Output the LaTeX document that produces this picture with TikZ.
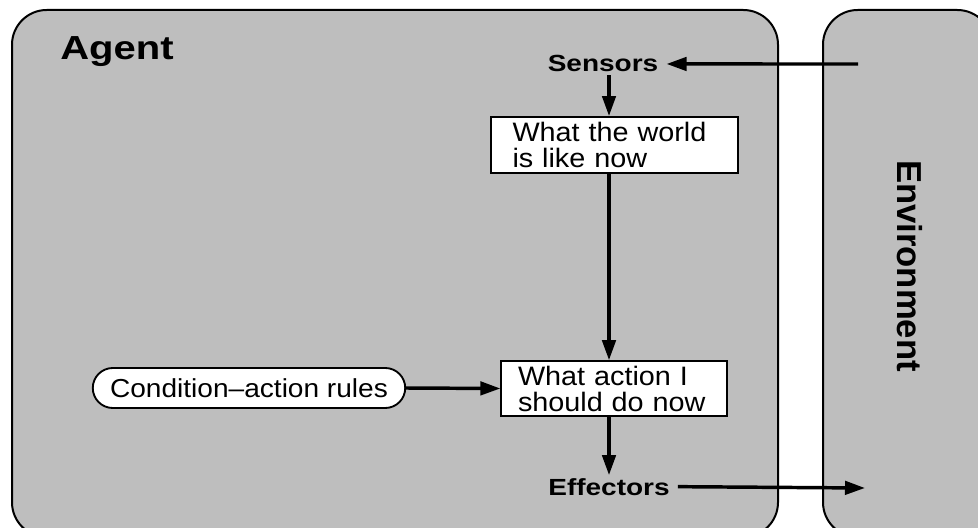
\documentclass[tikz,border=0pt]{standalone}
\usepackage{fontspec}
\setmainfont{Liberation Sans}[FakeStretch=1.2]
\newfontfamily\uprightlabel{Liberation Sans}
\newfontfamily\boxfont{Liberation Sans}[FakeStretch=1.08]
\usetikzlibrary{arrows.meta,shapes.misc}
\definecolor{panelgray}{RGB}{190,190,190}
\begin{document}
\begin{tikzpicture}[x=0.75pt,y=-0.75pt,
  panel/.style={draw=black,line width=1.5pt,fill=panelgray,rounded corners=26pt},
  infobox/.style={draw=black,line width=1.4pt,fill=white,align=left,
    font=\boxfont\fontsize{20}{19.5}\selectfont,inner ysep=0pt},
  flow/.style={line width=2.6pt,-{Triangle[length=15pt,width=10pt]}},
  port/.style={font=\bfseries\fontsize{17.5}{20}\selectfont,inner ysep=2pt,inner xsep=6pt}]
\useasboundingbox (0,0) rectangle (978,528);
% agent and environment panels, running past the lower edge
\begin{scope}
  \clip (0,0) rectangle (978,528);
  \draw[panel] (12,10) rectangle (778,537);
  \draw[panel] (823,10) rectangle (992,537);
\end{scope}
\node[anchor=base west,inner sep=0pt,font=\bfseries\fontsize{25}{30}\selectfont] (agent) at (60,60) {Agent};
\node[rotate=-90,font=\uprightlabel\bfseries\fontsize{26}{30}\selectfont] (env) at (910,266) {Environment};

% agent internals
\node[port,anchor=base] (sensors) at (603,72) {Sensors};
\node[port,anchor=base] (effectors) at (609,495) {Effectors};
\node[infobox,text width=153pt,inner xsep=16pt,minimum height=42pt] (world) at (614.5,145) {What the world\\is like now};
\node[infobox,text width=144pt,inner xsep=12.5pt,minimum height=41pt] (act) at (614,388.5) {What action I\\should do now};
\node[draw=black,line width=1.4pt,fill=white,rounded rectangle,minimum width=241pt,minimum height=30pt,
  font=\boxfont\fontsize{19.5}{20}\selectfont] (rules) at (249,388) {Condition–action rules};

% connector ends in the environment and the vertical spine
\coordinate (envin) at (858,64);
\coordinate (envout) at (865,488);
\coordinate (spine) at (609,0);

\draw[flow] (envin) -- (sensors.east);
\draw[flow] (sensors.south -| spine) -- (world.north -| spine);
\draw[flow] (world.south -| spine) -- (act.north -| spine);
\draw[flow] (rules.east) -- (act.west);
\draw[flow] (act.south -| spine) -- (effectors.north -| spine);
\draw[flow] (effectors.east) -- (envout);
\end{tikzpicture}
\end{document}
